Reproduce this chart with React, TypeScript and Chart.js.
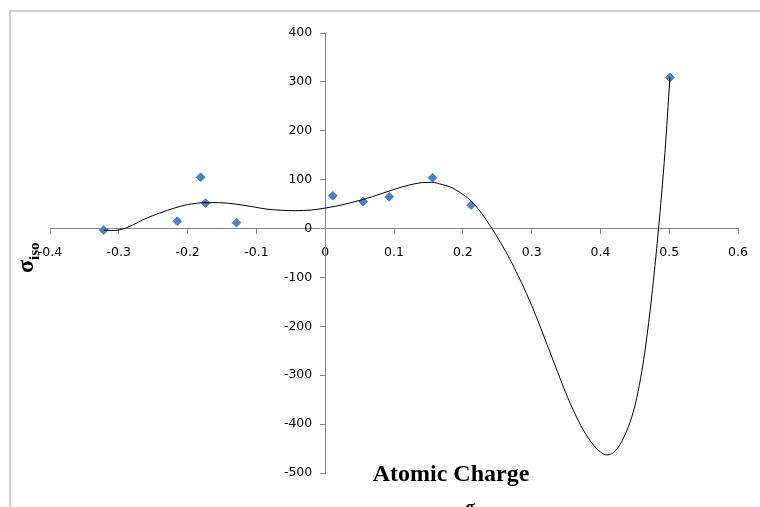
import React, { useEffect, useRef } from 'react';
import { Chart, registerables } from 'chart.js';

Chart.register(...registerables);

// Data points (atomic charge vs sigma_iso)
const charge = [-0.322, -0.215, -0.181, -0.174, -0.129, 0.011, 0.055, 0.093, 0.156, 0.212, 0.501];
const sigma = [-3, 15, 105, 52, 12, 67, 55, 65, 104, 48, 309];

// Trendline
const trendCharge = [
  -0.322, -0.31, -0.3, -0.29, -0.28, -0.262, -0.24, -0.219, -0.2, -0.175, -0.155, -0.13, -0.103,
  -0.086, -0.064, -0.043, -0.02, -0.004, 0.02, 0.035, 0.054, 0.083, 0.102, 0.122, 0.141, 0.155,
  0.17, 0.18, 0.19, 0.204, 0.215, 0.228, 0.24, 0.255, 0.27, 0.285, 0.3, 0.315, 0.33, 0.345,
  0.36, 0.375, 0.39, 0.4, 0.409, 0.417, 0.426, 0.436, 0.4454, 0.453, 0.46, 0.4657, 0.4744,
  0.4841, 0.4937, 0.501,
];
const trendSigma = [
  -3, -4, -3, 1, 7, 20, 32, 42, 49, 53, 53, 50, 44,
  40, 37.5, 36.5, 38, 41, 47, 52, 59, 72, 81, 89, 94, 94.5,
  90, 86, 79, 66, 52, 30, 5, -29, -67, -110, -157, -210, -265, -320,
  -370, -412, -443, -457, -463, -460, -447, -421, -386, -345, -293, -240, -140,
  -5, 155, 309,
];

const xMin = -0.4;
const xMax = 0.6;
const xStep = 0.1;
const yMin = -500;
const yMax = 400;
const yStep = 100;

const xTitle = 'Atomic Charge';
const yTitleMain = 'σ';
const yTitleSub = 'iso';

const tickFont = { family: '"DejaVu Sans", sans-serif', size: 12.5 };
const axisColor = '#868686';
const pointColor = '#4F81BD';

const decor = {
  id: 'decor',
  beforeDraw(chart: any) {
    const ctx = chart.ctx;
    ctx.save();
    ctx.fillStyle = '#ffffff';
    ctx.fillRect(0, 0, chart.width, chart.height);
    ctx.strokeStyle = '#c0c0c0';
    ctx.lineWidth = 1.5;
    ctx.strokeRect(10, 11, 900, 700);
    ctx.restore();
  },
  afterDraw(chart: any) {
    const ctx = chart.ctx;
    ctx.save();
    ctx.fillStyle = '#000';
    ctx.textBaseline = 'alphabetic';
    ctx.textAlign = 'center';
    ctx.font = 'bold 24px "Liberation Serif", serif';
    ctx.fillText(xTitle, 451, 481);

    // partially visible glyph at the bottom edge
    ctx.textAlign = 'left';
    ctx.font = 'bold 18px "Liberation Serif", serif';
    ctx.fillText(yTitleMain, 465, 513);

    // vertical y label
    ctx.translate(33, 273);
    ctx.rotate(-Math.PI / 2);
    ctx.font = 'bold 24px "Liberation Serif", serif';
    ctx.fillText(yTitleMain, 0, 0);
    const w = ctx.measureText(yTitleMain).width;
    ctx.font = 'bold 15px "Liberation Serif", serif';
    ctx.fillText(yTitleSub, w, 6);
    ctx.restore();
  },
};

export default function App() {
  const ref = useRef<HTMLCanvasElement>(null);

  useEffect(() => {
    if (!ref.current) return;
    const chart = new Chart(ref.current, {
      type: 'scatter',
      data: {
        datasets: [
          {
            label: 'Trend',
            data: trendCharge.map((x, i) => ({ x, y: trendSigma[i] })),
            showLine: true,
            borderColor: '#000',
            borderWidth: 1,
            pointRadius: 0,
            fill: false,
            cubicInterpolationMode: 'monotone',
          } as any,
          {
            label: 'Data',
            data: charge.map((x, i) => ({ x, y: sigma[i] })),
            pointStyle: 'rectRot',
            pointRadius: 4.4,
            backgroundColor: pointColor,
            borderColor: pointColor,
            borderWidth: 1,
            showLine: false,
          },
        ],
      },
      options: {
        responsive: false,
        animation: false,
        devicePixelRatio: 1,
        layout: { padding: { left: 50, right: 20, top: 33, bottom: 34 } },
        plugins: { legend: { display: false }, tooltip: { enabled: false } },
        scales: {
          x: {
            type: 'linear',
            position: { y: 0 } as any,
            min: xMin,
            max: xMax,
            ticks: { stepSize: xStep, font: tickFont, color: '#000', padding: 12, maxRotation: 0, autoSkip: false },
            grid: { display: true, drawOnChartArea: false, drawTicks: true, tickLength: 5, color: axisColor },
            border: { display: true, color: axisColor, width: 1 },
            afterFit: (s: any) => { s.height = 0; },
          },
          y: {
            type: 'linear',
            position: { x: 0 } as any,
            min: yMin,
            max: yMax,
            ticks: {
              stepSize: yStep,
              font: tickFont,
              color: '#000',
              padding: 8,
              autoSkip: false,
              callback: (v: any) => `${v}\u2007\u2009\u2009`,
            },
            grid: { display: true, drawOnChartArea: false, drawTicks: true, tickLength: 5, color: axisColor },
            border: { display: true, color: axisColor, width: 1 },
            afterFit: (s: any) => { s.width = 0; },
          },
        },
      },
      plugins: [decor],
    });
    return () => chart.destroy();
  }, []);

  return (
    <div style={{ position: 'fixed', left: 0, top: 0, width: 760, height: 507, background: '#fff' }}>
      <canvas ref={ref} width={760} height={507} style={{ display: 'block' }} />
    </div>
  );
}
